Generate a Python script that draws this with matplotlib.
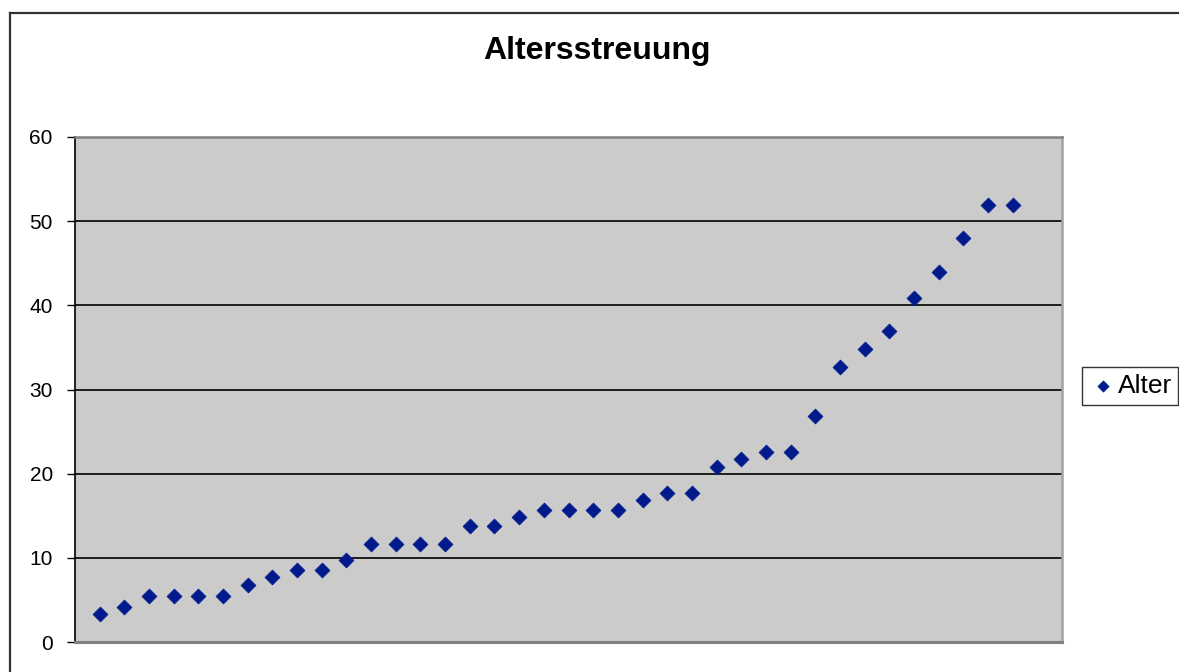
import matplotlib.pyplot as plt
from matplotlib.lines import Line2D

plt.rcParams["font.family"] = ["Liberation Sans", "DejaVu Sans"]

title = "Altersstreuung"
series_name = "Alter"
index = list(range(1, 39))
alter = [3.3, 4.2, 5.5, 5.5, 5.5, 5.5, 6.8, 7.7, 8.6, 8.6,
         9.8, 11.7, 11.7, 11.7, 11.7, 13.8, 13.8, 14.8, 15.7, 15.7,
         15.7, 15.7, 16.9, 17.7, 17.7, 20.8, 21.7, 22.6, 22.6, 26.9,
         32.7, 34.8, 36.9, 40.9, 44.0, 48.0, 51.9, 51.9]
yticks = [0, 10, 20, 30, 40, 50, 60]

W, H = 1179, 672
fig = plt.figure(figsize=(W / 100, H / 100), dpi=100)

# outer chart border (right and bottom edges fall outside the picture)
fig.add_artist(Line2D([10 / W, 1.0], [1 - 13 / H, 1 - 13 / H], transform=fig.transFigure,
                      color="#333333", lw=1.6))
fig.add_artist(Line2D([10 / W, 10 / W], [0.0, 1 - 13 / H], transform=fig.transFigure,
                      color="#333333", lw=1.6))

ax = fig.add_axes([75 / W, (H - 642) / H, (1062 - 75) / W, (642 - 137) / H])
ax.set_facecolor("#cbcbcb")
ax.scatter(index, alter, marker="D", s=58, color="#001a8c", edgecolors="#001a8c",
           linewidths=0.5, zorder=3, label=series_name)

ax.set_xlim(0, 40)
ax.set_ylim(0, 60)
ax.set_xticks([])
ax.set_yticks(yticks)
ax.set_yticklabels([str(v) for v in yticks], fontsize=15)
ax.tick_params(axis="y", direction="out", length=5.5, width=1, pad=10.5, colors="black")

for v in yticks[1:-1]:
    ax.axhline(v, color="black", lw=1.2, zorder=1)

ax.spines["left"].set_color("black")
ax.spines["left"].set_linewidth(1.2)
ax.spines["top"].set_color("#808080")
ax.spines["top"].set_linewidth(1.8)
ax.spines["right"].set_color("#a0a0a0")
ax.spines["right"].set_linewidth(1.8)
ax.spines["bottom"].set_color("#808080")
ax.spines["bottom"].set_linewidth(2.2)

fig.text(597 / W, 1 - 51 / H, title, ha="center", va="center",
         fontsize=23, fontweight="bold")

leg = ax.legend(loc="center left", bbox_to_anchor=(1082 / W, 1 - 386 / H),
                bbox_transform=fig.transFigure, fontsize=19, frameon=True,
                fancybox=False, borderpad=0.25, handletextpad=0.0,
                handlelength=1.1, markerscale=0.75, borderaxespad=0)
leg.get_frame().set_edgecolor("black")
leg.get_frame().set_linewidth(1.0)

fig.savefig("out.png", dpi=100)
